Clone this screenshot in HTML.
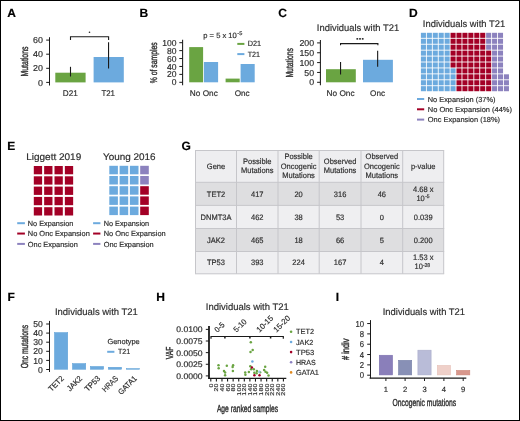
<!DOCTYPE html>
<html><head><meta charset="utf-8"><style>
html,body{margin:0;padding:0;background:#fff;}
body{width:520px;height:421px;overflow:hidden;}
svg{display:block;font-family:"Liberation Sans", sans-serif;will-change:transform;text-rendering:geometricPrecision;}
text{stroke:currentColor;stroke-width:0.18px;}
text.cn{stroke-width:0.38px;}
</style></head><body>
<svg width="520" height="421" viewBox="0 0 520 421">
<rect x="0" y="0" width="520" height="421" fill="#fff"/>
<text x="7.3" y="17.3" font-size="12" text-anchor="start" fill="#000" color="#000" font-weight="bold" >A</text>
<line x1="49.5" y1="37.2" x2="49.5" y2="85.5" stroke="#1a1a1a" stroke-width="1.05" />
<line x1="46.2" y1="82.4" x2="49.5" y2="82.4" stroke="#1a1a1a" stroke-width="1.0" />
<text x="43.0" y="85.5" font-size="8.6" text-anchor="end" fill="#2e2e2e" color="#2e2e2e" textLength="4.95" lengthAdjust="spacingAndGlyphs" >0</text>
<line x1="46.2" y1="68.3" x2="49.5" y2="68.3" stroke="#1a1a1a" stroke-width="1.0" />
<text x="43.0" y="71.4" font-size="8.6" text-anchor="end" fill="#2e2e2e" color="#2e2e2e" textLength="9.9" lengthAdjust="spacingAndGlyphs" >20</text>
<line x1="46.2" y1="54.2" x2="49.5" y2="54.2" stroke="#1a1a1a" stroke-width="1.0" />
<text x="43.0" y="57.3" font-size="8.6" text-anchor="end" fill="#2e2e2e" color="#2e2e2e" textLength="9.9" lengthAdjust="spacingAndGlyphs" >40</text>
<line x1="46.2" y1="40.1" x2="49.5" y2="40.1" stroke="#1a1a1a" stroke-width="1.0" />
<text x="43.0" y="43.2" font-size="8.6" text-anchor="end" fill="#2e2e2e" color="#2e2e2e" textLength="9.9" lengthAdjust="spacingAndGlyphs" >60</text>
<rect x="55.3" y="72.7" width="30.3" height="9.700000000000003" fill="#6aa442"/>
<rect x="93.6" y="57.0" width="30.2" height="25.400000000000006" fill="#6caade"/>
<line x1="70.5" y1="66.8" x2="70.5" y2="76.5" stroke="#1a1a1a" stroke-width="1.1" />
<line x1="108.55" y1="42.2" x2="108.55" y2="68.6" stroke="#1a1a1a" stroke-width="1.1" />
<path d="M70.5,39.9 V36.7 H108.6 V39.9" stroke="#1a1a1a" stroke-width="1.1" fill="none"/>
<circle cx="89.5" cy="32.2" r="0.8" fill="#222"/>
<text x="70.3" y="96.2" font-size="8.2" text-anchor="middle" fill="#2e2e2e" color="#2e2e2e" textLength="15.0" lengthAdjust="spacingAndGlyphs" >D21</text>
<text x="108.2" y="96.2" font-size="8.2" text-anchor="middle" fill="#2e2e2e" color="#2e2e2e" textLength="13.6" lengthAdjust="spacingAndGlyphs" >T21</text>
<text transform="translate(27.6,61.5) rotate(-90)" x="0" y="0" font-size="10.2" text-anchor="middle" fill="#2e2e2e" color="#2e2e2e" textLength="30.0" lengthAdjust="spacingAndGlyphs" class="cn">Mutations</text>
<text x="139.6" y="17.3" font-size="12" text-anchor="start" fill="#000" color="#000" font-weight="bold" >B</text>
<line x1="182.6" y1="39.7" x2="182.6" y2="85.3" stroke="#1a1a1a" stroke-width="1.05" />
<line x1="179.29999999999998" y1="82.3" x2="182.6" y2="82.3" stroke="#1a1a1a" stroke-width="1.0" />
<text x="176.5" y="85.4" font-size="8.6" text-anchor="end" fill="#2e2e2e" color="#2e2e2e" textLength="4.75" lengthAdjust="spacingAndGlyphs" >0</text>
<line x1="179.29999999999998" y1="74.38" x2="182.6" y2="74.38" stroke="#1a1a1a" stroke-width="1.0" />
<text x="176.5" y="77.48" font-size="8.6" text-anchor="end" fill="#2e2e2e" color="#2e2e2e" textLength="9.5" lengthAdjust="spacingAndGlyphs" >20</text>
<line x1="179.29999999999998" y1="66.46" x2="182.6" y2="66.46" stroke="#1a1a1a" stroke-width="1.0" />
<text x="176.5" y="69.56" font-size="8.6" text-anchor="end" fill="#2e2e2e" color="#2e2e2e" textLength="9.5" lengthAdjust="spacingAndGlyphs" >40</text>
<line x1="179.29999999999998" y1="58.54" x2="182.6" y2="58.54" stroke="#1a1a1a" stroke-width="1.0" />
<text x="176.5" y="61.64" font-size="8.6" text-anchor="end" fill="#2e2e2e" color="#2e2e2e" textLength="9.5" lengthAdjust="spacingAndGlyphs" >60</text>
<line x1="179.29999999999998" y1="50.62" x2="182.6" y2="50.62" stroke="#1a1a1a" stroke-width="1.0" />
<text x="176.5" y="53.72" font-size="8.6" text-anchor="end" fill="#2e2e2e" color="#2e2e2e" textLength="9.5" lengthAdjust="spacingAndGlyphs" >80</text>
<line x1="179.29999999999998" y1="42.7" x2="182.6" y2="42.7" stroke="#1a1a1a" stroke-width="1.0" />
<text x="176.5" y="45.8" font-size="8.6" text-anchor="end" fill="#2e2e2e" color="#2e2e2e" textLength="14.25" lengthAdjust="spacingAndGlyphs" >100</text>
<rect x="189.2" y="47.1" width="13.9" height="35.199999999999996" fill="#6aa442"/>
<rect x="203.9" y="62.0" width="14.2" height="20.299999999999997" fill="#6caade"/>
<rect x="225.6" y="78.6" width="14.1" height="3.700000000000003" fill="#6aa442"/>
<rect x="240.6" y="64.0" width="14.1" height="18.299999999999997" fill="#6caade"/>
<text x="203.8" y="96.3" font-size="8.2" text-anchor="middle" fill="#2e2e2e" color="#2e2e2e" textLength="28.0" lengthAdjust="spacingAndGlyphs" >No Onc</text>
<text x="242.2" y="96.3" font-size="8.2" text-anchor="middle" fill="#2e2e2e" color="#2e2e2e" textLength="15.0" lengthAdjust="spacingAndGlyphs" >Onc</text>
<text transform="translate(156.5,62.8) rotate(-90)" x="0" y="0" font-size="9.8" text-anchor="middle" fill="#2e2e2e" color="#2e2e2e" textLength="41.0" lengthAdjust="spacingAndGlyphs" class="cn">% of samples</text>
<text x="203.3" y="38.2" font-size="7.6" text-anchor="start" fill="#2e2e2e" color="#2e2e2e" textLength="33.5" lengthAdjust="spacingAndGlyphs" >p = 5 x 10</text>
<text x="237.3" y="35.0" font-size="5.2" text-anchor="start" fill="#2e2e2e" color="#2e2e2e" textLength="5.0" lengthAdjust="spacingAndGlyphs" >-5</text>
<line x1="237.3" y1="43.9" x2="244.4" y2="43.9" stroke="#6aa442" stroke-width="2.0" />
<line x1="237.3" y1="54.1" x2="244.4" y2="54.1" stroke="#6caade" stroke-width="2.0" />
<text x="247.7" y="46.3" font-size="7.7" text-anchor="start" fill="#2e2e2e" color="#2e2e2e" textLength="13.4" lengthAdjust="spacingAndGlyphs" >D21</text>
<text x="247.7" y="56.6" font-size="7.7" text-anchor="start" fill="#2e2e2e" color="#2e2e2e" textLength="12.4" lengthAdjust="spacingAndGlyphs" >T21</text>
<text x="278.2" y="17.3" font-size="12" text-anchor="start" fill="#000" color="#000" font-weight="bold" >C</text>
<text x="358.0" y="31.0" font-size="9.6" text-anchor="middle" fill="#2e2e2e" color="#2e2e2e" textLength="82.3" lengthAdjust="spacingAndGlyphs" >Individuals with T21</text>
<line x1="320.4" y1="40.0" x2="320.4" y2="85.3" stroke="#1a1a1a" stroke-width="1.05" />
<line x1="317.09999999999997" y1="82.3" x2="320.4" y2="82.3" stroke="#1a1a1a" stroke-width="1.0" />
<text x="314.1" y="85.4" font-size="8.6" text-anchor="end" fill="#2e2e2e" color="#2e2e2e" textLength="4.9" lengthAdjust="spacingAndGlyphs" >0</text>
<line x1="317.09999999999997" y1="72.45" x2="320.4" y2="72.45" stroke="#1a1a1a" stroke-width="1.0" />
<text x="314.1" y="75.55" font-size="8.6" text-anchor="end" fill="#2e2e2e" color="#2e2e2e" textLength="9.8" lengthAdjust="spacingAndGlyphs" >50</text>
<line x1="317.09999999999997" y1="62.6" x2="320.4" y2="62.6" stroke="#1a1a1a" stroke-width="1.0" />
<text x="314.1" y="65.7" font-size="8.6" text-anchor="end" fill="#2e2e2e" color="#2e2e2e" textLength="14.7" lengthAdjust="spacingAndGlyphs" >100</text>
<line x1="317.09999999999997" y1="52.75" x2="320.4" y2="52.75" stroke="#1a1a1a" stroke-width="1.0" />
<text x="314.1" y="55.85" font-size="8.6" text-anchor="end" fill="#2e2e2e" color="#2e2e2e" textLength="14.7" lengthAdjust="spacingAndGlyphs" >150</text>
<line x1="317.09999999999997" y1="42.9" x2="320.4" y2="42.9" stroke="#1a1a1a" stroke-width="1.0" />
<text x="314.1" y="46.0" font-size="8.6" text-anchor="end" fill="#2e2e2e" color="#2e2e2e" textLength="14.7" lengthAdjust="spacingAndGlyphs" >200</text>
<rect x="326.0" y="69.2" width="29.8" height="13.099999999999994" fill="#6aa442"/>
<rect x="363.0" y="59.8" width="29.9" height="22.5" fill="#6caade"/>
<line x1="340.55" y1="61.9" x2="340.55" y2="74.6" stroke="#1a1a1a" stroke-width="1.1" />
<line x1="377.65" y1="50.8" x2="377.65" y2="66.8" stroke="#1a1a1a" stroke-width="1.1" />
<path d="M340.55,45.3 V43.6 H377.9 V45.3" stroke="#1a1a1a" stroke-width="1.1" fill="none"/>
<rect x="356.45" y="38.0" width="1.7" height="1.7" fill="#333"/>
<rect x="359.15" y="38.0" width="1.7" height="1.7" fill="#333"/>
<rect x="361.85" y="38.0" width="1.7" height="1.7" fill="#333"/>
<text x="340.6" y="96.3" font-size="8.2" text-anchor="middle" fill="#2e2e2e" color="#2e2e2e" textLength="28.0" lengthAdjust="spacingAndGlyphs" >No Onc</text>
<text x="377.6" y="96.3" font-size="8.2" text-anchor="middle" fill="#2e2e2e" color="#2e2e2e" textLength="15.0" lengthAdjust="spacingAndGlyphs" >Onc</text>
<text transform="translate(293.4,62.8) rotate(-90)" x="0" y="0" font-size="10.2" text-anchor="middle" fill="#2e2e2e" color="#2e2e2e" textLength="29.6" lengthAdjust="spacingAndGlyphs" class="cn">Mutations</text>
<text x="409.05" y="17.2" font-size="12" text-anchor="start" fill="#000" color="#000" font-weight="bold" >D</text>
<text x="464.0" y="27.2" font-size="9.6" text-anchor="middle" fill="#2e2e2e" color="#2e2e2e" textLength="82.3" lengthAdjust="spacingAndGlyphs" >Individuals with T21</text>
<rect x="420.9" y="86.17" width="5.05" height="5.05" fill="#6caade"/>
<rect x="420.9" y="80.24" width="5.05" height="5.05" fill="#6caade"/>
<rect x="420.9" y="74.31" width="5.05" height="5.05" fill="#6caade"/>
<rect x="420.9" y="68.38" width="5.05" height="5.05" fill="#6caade"/>
<rect x="420.9" y="62.45" width="5.05" height="5.05" fill="#6caade"/>
<rect x="420.9" y="56.52" width="5.05" height="5.05" fill="#6caade"/>
<rect x="420.9" y="50.59" width="5.05" height="5.05" fill="#6caade"/>
<rect x="420.9" y="44.66" width="5.05" height="5.05" fill="#6caade"/>
<rect x="420.9" y="38.73" width="5.05" height="5.05" fill="#6caade"/>
<rect x="420.9" y="32.8" width="5.05" height="5.05" fill="#6caade"/>
<rect x="426.83" y="86.17" width="5.05" height="5.05" fill="#6caade"/>
<rect x="426.83" y="80.24" width="5.05" height="5.05" fill="#6caade"/>
<rect x="426.83" y="74.31" width="5.05" height="5.05" fill="#6caade"/>
<rect x="426.83" y="68.38" width="5.05" height="5.05" fill="#6caade"/>
<rect x="426.83" y="62.45" width="5.05" height="5.05" fill="#6caade"/>
<rect x="426.83" y="56.52" width="5.05" height="5.05" fill="#6caade"/>
<rect x="426.83" y="50.59" width="5.05" height="5.05" fill="#6caade"/>
<rect x="426.83" y="44.66" width="5.05" height="5.05" fill="#6caade"/>
<rect x="426.83" y="38.73" width="5.05" height="5.05" fill="#6caade"/>
<rect x="426.83" y="32.8" width="5.05" height="5.05" fill="#6caade"/>
<rect x="432.76" y="86.17" width="5.05" height="5.05" fill="#6caade"/>
<rect x="432.76" y="80.24" width="5.05" height="5.05" fill="#6caade"/>
<rect x="432.76" y="74.31" width="5.05" height="5.05" fill="#6caade"/>
<rect x="432.76" y="68.38" width="5.05" height="5.05" fill="#6caade"/>
<rect x="432.76" y="62.45" width="5.05" height="5.05" fill="#6caade"/>
<rect x="432.76" y="56.52" width="5.05" height="5.05" fill="#6caade"/>
<rect x="432.76" y="50.59" width="5.05" height="5.05" fill="#6caade"/>
<rect x="432.76" y="44.66" width="5.05" height="5.05" fill="#6caade"/>
<rect x="432.76" y="38.73" width="5.05" height="5.05" fill="#6caade"/>
<rect x="432.76" y="32.8" width="5.05" height="5.05" fill="#6caade"/>
<rect x="438.69" y="86.17" width="5.05" height="5.05" fill="#6caade"/>
<rect x="438.69" y="80.24" width="5.05" height="5.05" fill="#6caade"/>
<rect x="438.69" y="74.31" width="5.05" height="5.05" fill="#6caade"/>
<rect x="438.69" y="68.38" width="5.05" height="5.05" fill="#6caade"/>
<rect x="438.69" y="62.45" width="5.05" height="5.05" fill="#6caade"/>
<rect x="438.69" y="56.52" width="5.05" height="5.05" fill="#6caade"/>
<rect x="438.69" y="50.59" width="5.05" height="5.05" fill="#6caade"/>
<rect x="438.69" y="44.66" width="5.05" height="5.05" fill="#6caade"/>
<rect x="438.69" y="38.73" width="5.05" height="5.05" fill="#6caade"/>
<rect x="438.69" y="32.8" width="5.05" height="5.05" fill="#6caade"/>
<rect x="444.62" y="86.17" width="5.05" height="5.05" fill="#6caade"/>
<rect x="444.62" y="80.24" width="5.05" height="5.05" fill="#6caade"/>
<rect x="444.62" y="74.31" width="5.05" height="5.05" fill="#6caade"/>
<rect x="444.62" y="68.38" width="5.05" height="5.05" fill="#6caade"/>
<rect x="444.62" y="62.45" width="5.05" height="5.05" fill="#6caade"/>
<rect x="444.62" y="56.52" width="5.05" height="5.05" fill="#6caade"/>
<rect x="444.62" y="50.59" width="5.05" height="5.05" fill="#6caade"/>
<rect x="444.62" y="44.66" width="5.05" height="5.05" fill="#6caade"/>
<rect x="444.62" y="38.73" width="5.05" height="5.05" fill="#6caade"/>
<rect x="444.62" y="32.8" width="5.05" height="5.05" fill="#6caade"/>
<rect x="450.55" y="86.17" width="5.05" height="5.05" fill="#6caade"/>
<rect x="450.55" y="80.24" width="5.05" height="5.05" fill="#6caade"/>
<rect x="450.55" y="74.31" width="5.05" height="5.05" fill="#6caade"/>
<rect x="450.55" y="68.38" width="5.05" height="5.05" fill="#6caade"/>
<rect x="450.55" y="62.45" width="5.05" height="5.05" fill="#a30026"/>
<rect x="450.55" y="56.52" width="5.05" height="5.05" fill="#a30026"/>
<rect x="450.55" y="50.59" width="5.05" height="5.05" fill="#a30026"/>
<rect x="450.55" y="44.66" width="5.05" height="5.05" fill="#a30026"/>
<rect x="450.55" y="38.73" width="5.05" height="5.05" fill="#a30026"/>
<rect x="450.55" y="32.8" width="5.05" height="5.05" fill="#a30026"/>
<rect x="456.48" y="86.17" width="5.05" height="5.05" fill="#a30026"/>
<rect x="456.48" y="80.24" width="5.05" height="5.05" fill="#a30026"/>
<rect x="456.48" y="74.31" width="5.05" height="5.05" fill="#a30026"/>
<rect x="456.48" y="68.38" width="5.05" height="5.05" fill="#a30026"/>
<rect x="456.48" y="62.45" width="5.05" height="5.05" fill="#a30026"/>
<rect x="456.48" y="56.52" width="5.05" height="5.05" fill="#a30026"/>
<rect x="456.48" y="50.59" width="5.05" height="5.05" fill="#a30026"/>
<rect x="456.48" y="44.66" width="5.05" height="5.05" fill="#a30026"/>
<rect x="456.48" y="38.73" width="5.05" height="5.05" fill="#a30026"/>
<rect x="456.48" y="32.8" width="5.05" height="5.05" fill="#a30026"/>
<rect x="462.41" y="86.17" width="5.05" height="5.05" fill="#a30026"/>
<rect x="462.41" y="80.24" width="5.05" height="5.05" fill="#a30026"/>
<rect x="462.41" y="74.31" width="5.05" height="5.05" fill="#a30026"/>
<rect x="462.41" y="68.38" width="5.05" height="5.05" fill="#a30026"/>
<rect x="462.41" y="62.45" width="5.05" height="5.05" fill="#a30026"/>
<rect x="462.41" y="56.52" width="5.05" height="5.05" fill="#a30026"/>
<rect x="462.41" y="50.59" width="5.05" height="5.05" fill="#a30026"/>
<rect x="462.41" y="44.66" width="5.05" height="5.05" fill="#a30026"/>
<rect x="462.41" y="38.73" width="5.05" height="5.05" fill="#a30026"/>
<rect x="462.41" y="32.8" width="5.05" height="5.05" fill="#a30026"/>
<rect x="468.34" y="86.17" width="5.05" height="5.05" fill="#a30026"/>
<rect x="468.34" y="80.24" width="5.05" height="5.05" fill="#a30026"/>
<rect x="468.34" y="74.31" width="5.05" height="5.05" fill="#a30026"/>
<rect x="468.34" y="68.38" width="5.05" height="5.05" fill="#a30026"/>
<rect x="468.34" y="62.45" width="5.05" height="5.05" fill="#a30026"/>
<rect x="468.34" y="56.52" width="5.05" height="5.05" fill="#a30026"/>
<rect x="468.34" y="50.59" width="5.05" height="5.05" fill="#a30026"/>
<rect x="468.34" y="44.66" width="5.05" height="5.05" fill="#a30026"/>
<rect x="468.34" y="38.73" width="5.05" height="5.05" fill="#a30026"/>
<rect x="468.34" y="32.8" width="5.05" height="5.05" fill="#a30026"/>
<rect x="474.27" y="86.17" width="5.05" height="5.05" fill="#a30026"/>
<rect x="474.27" y="80.24" width="5.05" height="5.05" fill="#a30026"/>
<rect x="474.27" y="74.31" width="5.05" height="5.05" fill="#a30026"/>
<rect x="474.27" y="68.38" width="5.05" height="5.05" fill="#a30026"/>
<rect x="474.27" y="62.45" width="5.05" height="5.05" fill="#a30026"/>
<rect x="474.27" y="56.52" width="5.05" height="5.05" fill="#a30026"/>
<rect x="474.27" y="50.59" width="5.05" height="5.05" fill="#a30026"/>
<rect x="474.27" y="44.66" width="5.05" height="5.05" fill="#a30026"/>
<rect x="474.27" y="38.73" width="5.05" height="5.05" fill="#a30026"/>
<rect x="474.27" y="32.8" width="5.05" height="5.05" fill="#a30026"/>
<rect x="480.2" y="86.17" width="5.05" height="5.05" fill="#a30026"/>
<rect x="480.2" y="80.24" width="5.05" height="5.05" fill="#a30026"/>
<rect x="480.2" y="74.31" width="5.05" height="5.05" fill="#a30026"/>
<rect x="480.2" y="68.38" width="5.05" height="5.05" fill="#a30026"/>
<rect x="480.2" y="62.45" width="5.05" height="5.05" fill="#a30026"/>
<rect x="480.2" y="56.52" width="5.05" height="5.05" fill="#a30026"/>
<rect x="480.2" y="50.59" width="5.05" height="5.05" fill="#a30026"/>
<rect x="480.2" y="44.66" width="5.05" height="5.05" fill="#a30026"/>
<rect x="480.2" y="38.73" width="5.05" height="5.05" fill="#a30026"/>
<rect x="480.2" y="32.8" width="5.05" height="5.05" fill="#a30026"/>
<rect x="486.13" y="86.17" width="5.05" height="5.05" fill="#a30026"/>
<rect x="486.13" y="80.24" width="5.05" height="5.05" fill="#a30026"/>
<rect x="486.13" y="74.31" width="5.05" height="5.05" fill="#a30026"/>
<rect x="486.13" y="68.38" width="5.05" height="5.05" fill="#a30026"/>
<rect x="486.13" y="62.45" width="5.05" height="5.05" fill="#a30026"/>
<rect x="486.13" y="56.52" width="5.05" height="5.05" fill="#a30026"/>
<rect x="486.13" y="50.59" width="5.05" height="5.05" fill="#a30026"/>
<rect x="486.13" y="44.66" width="5.05" height="5.05" fill="#8c82be"/>
<rect x="486.13" y="38.73" width="5.05" height="5.05" fill="#8c82be"/>
<rect x="486.13" y="32.8" width="5.05" height="5.05" fill="#8c82be"/>
<rect x="492.06" y="86.17" width="5.05" height="5.05" fill="#8c82be"/>
<rect x="492.06" y="80.24" width="5.05" height="5.05" fill="#8c82be"/>
<rect x="492.06" y="74.31" width="5.05" height="5.05" fill="#8c82be"/>
<rect x="492.06" y="68.38" width="5.05" height="5.05" fill="#8c82be"/>
<rect x="492.06" y="62.45" width="5.05" height="5.05" fill="#8c82be"/>
<rect x="492.06" y="56.52" width="5.05" height="5.05" fill="#8c82be"/>
<rect x="492.06" y="50.59" width="5.05" height="5.05" fill="#8c82be"/>
<rect x="492.06" y="44.66" width="5.05" height="5.05" fill="#8c82be"/>
<rect x="492.06" y="38.73" width="5.05" height="5.05" fill="#8c82be"/>
<rect x="492.06" y="32.8" width="5.05" height="5.05" fill="#8c82be"/>
<rect x="497.99" y="86.17" width="5.05" height="5.05" fill="#8c82be"/>
<rect x="497.99" y="80.24" width="5.05" height="5.05" fill="#8c82be"/>
<rect x="497.99" y="74.31" width="5.05" height="5.05" fill="#8c82be"/>
<rect x="497.99" y="68.38" width="5.05" height="5.05" fill="#8c82be"/>
<rect x="497.99" y="62.45" width="5.05" height="5.05" fill="#8c82be"/>
<rect x="497.99" y="56.52" width="5.05" height="5.05" fill="#8c82be"/>
<rect x="497.99" y="50.59" width="5.05" height="5.05" fill="#8c82be"/>
<rect x="497.99" y="44.66" width="5.05" height="5.05" fill="#8c82be"/>
<rect x="497.99" y="38.73" width="5.05" height="5.05" fill="#8c82be"/>
<rect x="497.99" y="32.8" width="5.05" height="5.05" fill="#8c82be"/>
<rect x="503.92" y="86.17" width="5.05" height="5.05" fill="#8c82be"/>
<rect x="503.92" y="80.24" width="5.05" height="5.05" fill="#8c82be"/>
<rect x="503.92" y="74.31" width="5.05" height="5.05" fill="#8c82be"/>
<line x1="417.0" y1="99.0" x2="424.2" y2="99.0" stroke="#6caade" stroke-width="2.0" />
<text x="427.8" y="101.6" font-size="7.3" text-anchor="start" fill="#2e2e2e" color="#2e2e2e" textLength="67.6" lengthAdjust="spacingAndGlyphs" >No Expansion (37%)</text>
<line x1="417.0" y1="109.3" x2="424.2" y2="109.3" stroke="#a30026" stroke-width="2.0" />
<text x="427.8" y="111.9" font-size="7.3" text-anchor="start" fill="#2e2e2e" color="#2e2e2e" textLength="84.2" lengthAdjust="spacingAndGlyphs" >No Onc Expansion (44%)</text>
<line x1="417.0" y1="119.6" x2="424.2" y2="119.6" stroke="#8c82be" stroke-width="2.0" />
<text x="427.8" y="122.2" font-size="7.3" text-anchor="start" fill="#2e2e2e" color="#2e2e2e" textLength="72.2" lengthAdjust="spacingAndGlyphs" >Onc Expansion (18%)</text>
<text x="7.3" y="150.2" font-size="12" text-anchor="start" fill="#000" color="#000" font-weight="bold" >E</text>
<text x="53.7" y="159.5" font-size="9.6" text-anchor="middle" fill="#2e2e2e" color="#2e2e2e" textLength="55.0" lengthAdjust="spacingAndGlyphs" >Liggett 2019</text>
<text x="129.2" y="159.5" font-size="9.6" text-anchor="middle" fill="#2e2e2e" color="#2e2e2e" textLength="52.5" lengthAdjust="spacingAndGlyphs" >Young 2016</text>
<rect x="33.8" y="166.0" width="8.3" height="8.3" fill="#a30026"/>
<rect x="44.15" y="166.0" width="8.3" height="8.3" fill="#a30026"/>
<rect x="54.5" y="166.0" width="8.3" height="8.3" fill="#a30026"/>
<rect x="64.85" y="166.0" width="8.3" height="8.3" fill="#a30026"/>
<rect x="33.8" y="176.3" width="8.3" height="8.3" fill="#a30026"/>
<rect x="44.15" y="176.3" width="8.3" height="8.3" fill="#a30026"/>
<rect x="54.5" y="176.3" width="8.3" height="8.3" fill="#a30026"/>
<rect x="64.85" y="176.3" width="8.3" height="8.3" fill="#a30026"/>
<rect x="33.8" y="186.6" width="8.3" height="8.3" fill="#a30026"/>
<rect x="44.15" y="186.6" width="8.3" height="8.3" fill="#a30026"/>
<rect x="54.5" y="186.6" width="8.3" height="8.3" fill="#a30026"/>
<rect x="64.85" y="186.6" width="8.3" height="8.3" fill="#a30026"/>
<rect x="33.8" y="196.9" width="8.3" height="8.3" fill="#a30026"/>
<rect x="44.15" y="196.9" width="8.3" height="8.3" fill="#a30026"/>
<rect x="54.5" y="196.9" width="8.3" height="8.3" fill="#a30026"/>
<rect x="64.85" y="196.9" width="8.3" height="8.3" fill="#a30026"/>
<rect x="33.8" y="207.2" width="8.3" height="8.3" fill="#a30026"/>
<rect x="44.15" y="207.2" width="8.3" height="8.3" fill="#a30026"/>
<rect x="54.5" y="207.2" width="8.3" height="8.3" fill="#a30026"/>
<rect x="64.85" y="207.2" width="8.3" height="8.3" fill="#a30026"/>
<rect x="109.3" y="165.8" width="8.6" height="8.5" fill="#6caade"/>
<rect x="109.3" y="176.0" width="8.6" height="8.5" fill="#6caade"/>
<rect x="109.3" y="186.2" width="8.6" height="8.5" fill="#6caade"/>
<rect x="109.3" y="196.4" width="8.6" height="8.5" fill="#6caade"/>
<rect x="109.3" y="206.6" width="8.6" height="8.5" fill="#6caade"/>
<rect x="119.6" y="165.8" width="8.6" height="8.5" fill="#6caade"/>
<rect x="119.6" y="176.0" width="8.6" height="8.5" fill="#6caade"/>
<rect x="119.6" y="186.2" width="8.6" height="8.5" fill="#6caade"/>
<rect x="119.6" y="196.4" width="8.6" height="8.5" fill="#6caade"/>
<rect x="119.6" y="206.6" width="8.6" height="8.5" fill="#6caade"/>
<rect x="129.9" y="165.8" width="8.6" height="8.5" fill="#6caade"/>
<rect x="129.9" y="176.0" width="8.6" height="8.5" fill="#6caade"/>
<rect x="129.9" y="186.2" width="8.6" height="8.5" fill="#6caade"/>
<rect x="129.9" y="196.4" width="8.6" height="8.5" fill="#6caade"/>
<rect x="129.9" y="206.6" width="8.6" height="8.5" fill="#6caade"/>
<rect x="140.2" y="165.8" width="8.6" height="8.5" fill="#8c82be"/>
<rect x="140.2" y="176.0" width="8.6" height="8.5" fill="#8c82be"/>
<rect x="140.2" y="186.2" width="8.6" height="8.5" fill="#a30026"/>
<rect x="140.2" y="196.4" width="8.6" height="8.5" fill="#a30026"/>
<rect x="140.2" y="206.6" width="8.6" height="8.5" fill="#a30026"/>
<line x1="17.2" y1="223.2" x2="24.9" y2="223.2" stroke="#6caade" stroke-width="2.0" />
<text x="27.8" y="225.9" font-size="7.4" text-anchor="start" fill="#2e2e2e" color="#2e2e2e" textLength="45.5" lengthAdjust="spacingAndGlyphs" >No Expansion</text>
<line x1="17.2" y1="233.55" x2="24.9" y2="233.55" stroke="#a30026" stroke-width="2.0" />
<text x="27.8" y="236.25" font-size="7.4" text-anchor="start" fill="#2e2e2e" color="#2e2e2e" textLength="62.0" lengthAdjust="spacingAndGlyphs" >No Onc Expansion</text>
<line x1="17.2" y1="243.9" x2="24.9" y2="243.9" stroke="#8c82be" stroke-width="2.0" />
<text x="27.8" y="246.6" font-size="7.4" text-anchor="start" fill="#2e2e2e" color="#2e2e2e" textLength="50.0" lengthAdjust="spacingAndGlyphs" >Onc Expansion</text>
<line x1="93.1" y1="223.2" x2="100.39999999999999" y2="223.2" stroke="#6caade" stroke-width="2.0" />
<text x="103.7" y="225.9" font-size="7.4" text-anchor="start" fill="#2e2e2e" color="#2e2e2e" textLength="45.5" lengthAdjust="spacingAndGlyphs" >No Expansion</text>
<line x1="93.1" y1="233.55" x2="100.39999999999999" y2="233.55" stroke="#a30026" stroke-width="2.0" />
<text x="103.7" y="236.25" font-size="7.4" text-anchor="start" fill="#2e2e2e" color="#2e2e2e" textLength="62.0" lengthAdjust="spacingAndGlyphs" >No Onc Expansion</text>
<line x1="93.1" y1="243.9" x2="100.39999999999999" y2="243.9" stroke="#8c82be" stroke-width="2.0" />
<text x="103.7" y="246.6" font-size="7.4" text-anchor="start" fill="#2e2e2e" color="#2e2e2e" textLength="50.0" lengthAdjust="spacingAndGlyphs" >Onc Expansion</text>
<text x="181.6" y="150.2" font-size="12" text-anchor="start" fill="#000" color="#000" font-weight="bold" >G</text>
<rect x="195.5" y="150.5" width="248.2" height="31.80000000000001" fill="#eeeef0"/>
<rect x="195.5" y="182.3" width="248.2" height="23.099999999999994" fill="#dedee0"/>
<rect x="195.5" y="205.4" width="248.2" height="23.099999999999994" fill="#efeff1"/>
<rect x="195.5" y="228.5" width="248.2" height="23.0" fill="#dedee0"/>
<rect x="195.5" y="251.5" width="248.2" height="22.30000000000001" fill="#efeff1"/>
<line x1="195.5" y1="150.5" x2="195.5" y2="273.8" stroke="#c6c6ca" stroke-width="1.0" />
<line x1="236.5" y1="150.5" x2="236.5" y2="273.8" stroke="#c6c6ca" stroke-width="1.0" />
<line x1="278.0" y1="150.5" x2="278.0" y2="273.8" stroke="#c6c6ca" stroke-width="1.0" />
<line x1="319.2" y1="150.5" x2="319.2" y2="273.8" stroke="#c6c6ca" stroke-width="1.0" />
<line x1="361.0" y1="150.5" x2="361.0" y2="273.8" stroke="#c6c6ca" stroke-width="1.0" />
<line x1="402.7" y1="150.5" x2="402.7" y2="273.8" stroke="#c6c6ca" stroke-width="1.0" />
<line x1="443.7" y1="150.5" x2="443.7" y2="273.8" stroke="#c6c6ca" stroke-width="1.0" />
<line x1="195.0" y1="150.5" x2="444.2" y2="150.5" stroke="#c6c6ca" stroke-width="1.0" />
<line x1="195.0" y1="182.3" x2="444.2" y2="182.3" stroke="#c6c6ca" stroke-width="1.0" />
<line x1="195.0" y1="205.4" x2="444.2" y2="205.4" stroke="#c6c6ca" stroke-width="1.0" />
<line x1="195.0" y1="228.5" x2="444.2" y2="228.5" stroke="#c6c6ca" stroke-width="1.0" />
<line x1="195.0" y1="251.5" x2="444.2" y2="251.5" stroke="#c6c6ca" stroke-width="1.0" />
<line x1="195.0" y1="273.8" x2="444.2" y2="273.8" stroke="#c6c6ca" stroke-width="1.0" />
<text x="216.0" y="168.8" font-size="7.88" text-anchor="middle" fill="#2e2e2e" color="#2e2e2e" textLength="18.35" lengthAdjust="spacingAndGlyphs" >Gene</text>
<text x="257.25" y="164.0" font-size="7.88" text-anchor="middle" fill="#2e2e2e" color="#2e2e2e" textLength="28.35" lengthAdjust="spacingAndGlyphs" >Possible</text>
<text x="257.25" y="173.1" font-size="7.88" text-anchor="middle" fill="#2e2e2e" color="#2e2e2e" textLength="32.52" lengthAdjust="spacingAndGlyphs" >Mutations</text>
<text x="298.6" y="159.4" font-size="7.88" text-anchor="middle" fill="#2e2e2e" color="#2e2e2e" textLength="28.35" lengthAdjust="spacingAndGlyphs" >Possible</text>
<text x="298.6" y="168.6" font-size="7.88" text-anchor="middle" fill="#2e2e2e" color="#2e2e2e" textLength="35.86" lengthAdjust="spacingAndGlyphs" >Oncogenic</text>
<text x="298.6" y="177.8" font-size="7.88" text-anchor="middle" fill="#2e2e2e" color="#2e2e2e" textLength="32.52" lengthAdjust="spacingAndGlyphs" >Mutations</text>
<text x="340.1" y="164.0" font-size="7.88" text-anchor="middle" fill="#2e2e2e" color="#2e2e2e" textLength="32.52" lengthAdjust="spacingAndGlyphs" >Observed</text>
<text x="340.1" y="173.1" font-size="7.88" text-anchor="middle" fill="#2e2e2e" color="#2e2e2e" textLength="32.52" lengthAdjust="spacingAndGlyphs" >Mutations</text>
<text x="381.85" y="159.4" font-size="7.88" text-anchor="middle" fill="#2e2e2e" color="#2e2e2e" textLength="32.52" lengthAdjust="spacingAndGlyphs" >Observed</text>
<text x="381.85" y="168.6" font-size="7.88" text-anchor="middle" fill="#2e2e2e" color="#2e2e2e" textLength="35.86" lengthAdjust="spacingAndGlyphs" >Oncogenic</text>
<text x="381.85" y="177.8" font-size="7.88" text-anchor="middle" fill="#2e2e2e" color="#2e2e2e" textLength="32.52" lengthAdjust="spacingAndGlyphs" >Mutations</text>
<text x="423.2" y="168.8" font-size="7.88" text-anchor="middle" fill="#2e2e2e" color="#2e2e2e" textLength="24.6" lengthAdjust="spacingAndGlyphs" >p-value</text>
<text x="216.0" y="196.55" font-size="7.88" text-anchor="middle" fill="#2e2e2e" color="#2e2e2e" textLength="18.34" lengthAdjust="spacingAndGlyphs" >TET2</text>
<text x="257.25" y="196.55" font-size="7.88" text-anchor="middle" fill="#2e2e2e" color="#2e2e2e" textLength="12.51" lengthAdjust="spacingAndGlyphs" >417</text>
<text x="298.6" y="196.55" font-size="7.88" text-anchor="middle" fill="#2e2e2e" color="#2e2e2e" textLength="8.34" lengthAdjust="spacingAndGlyphs" >20</text>
<text x="340.1" y="196.55" font-size="7.88" text-anchor="middle" fill="#2e2e2e" color="#2e2e2e" textLength="12.51" lengthAdjust="spacingAndGlyphs" >316</text>
<text x="381.85" y="196.55" font-size="7.88" text-anchor="middle" fill="#2e2e2e" color="#2e2e2e" textLength="8.34" lengthAdjust="spacingAndGlyphs" >46</text>
<text x="216.0" y="219.65" font-size="7.88" text-anchor="middle" fill="#2e2e2e" color="#2e2e2e" textLength="30.84" lengthAdjust="spacingAndGlyphs" >DNMT3A</text>
<text x="257.25" y="219.65" font-size="7.88" text-anchor="middle" fill="#2e2e2e" color="#2e2e2e" textLength="12.51" lengthAdjust="spacingAndGlyphs" >462</text>
<text x="298.6" y="219.65" font-size="7.88" text-anchor="middle" fill="#2e2e2e" color="#2e2e2e" textLength="8.34" lengthAdjust="spacingAndGlyphs" >38</text>
<text x="340.1" y="219.65" font-size="7.88" text-anchor="middle" fill="#2e2e2e" color="#2e2e2e" textLength="8.34" lengthAdjust="spacingAndGlyphs" >53</text>
<text x="381.85" y="219.65" font-size="7.5" text-anchor="middle" fill="#2e2e2e" color="#2e2e2e" >0</text>
<text x="423.2" y="219.65" font-size="7.88" text-anchor="middle" fill="#2e2e2e" color="#2e2e2e" textLength="18.77" lengthAdjust="spacingAndGlyphs" >0.039</text>
<text x="216.0" y="242.7" font-size="7.88" text-anchor="middle" fill="#2e2e2e" color="#2e2e2e" textLength="17.93" lengthAdjust="spacingAndGlyphs" >JAK2</text>
<text x="257.25" y="242.7" font-size="7.88" text-anchor="middle" fill="#2e2e2e" color="#2e2e2e" textLength="12.51" lengthAdjust="spacingAndGlyphs" >465</text>
<text x="298.6" y="242.7" font-size="7.88" text-anchor="middle" fill="#2e2e2e" color="#2e2e2e" textLength="8.34" lengthAdjust="spacingAndGlyphs" >18</text>
<text x="340.1" y="242.7" font-size="7.88" text-anchor="middle" fill="#2e2e2e" color="#2e2e2e" textLength="8.34" lengthAdjust="spacingAndGlyphs" >66</text>
<text x="381.85" y="242.7" font-size="7.5" text-anchor="middle" fill="#2e2e2e" color="#2e2e2e" >5</text>
<text x="423.2" y="242.7" font-size="7.88" text-anchor="middle" fill="#2e2e2e" color="#2e2e2e" textLength="18.77" lengthAdjust="spacingAndGlyphs" >0.200</text>
<text x="216.0" y="265.35" font-size="7.88" text-anchor="middle" fill="#2e2e2e" color="#2e2e2e" textLength="17.93" lengthAdjust="spacingAndGlyphs" >TP53</text>
<text x="257.25" y="265.35" font-size="7.88" text-anchor="middle" fill="#2e2e2e" color="#2e2e2e" textLength="12.51" lengthAdjust="spacingAndGlyphs" >393</text>
<text x="298.6" y="265.35" font-size="7.88" text-anchor="middle" fill="#2e2e2e" color="#2e2e2e" textLength="12.51" lengthAdjust="spacingAndGlyphs" >224</text>
<text x="340.1" y="265.35" font-size="7.88" text-anchor="middle" fill="#2e2e2e" color="#2e2e2e" textLength="12.51" lengthAdjust="spacingAndGlyphs" >167</text>
<text x="381.85" y="265.35" font-size="7.5" text-anchor="middle" fill="#2e2e2e" color="#2e2e2e" >4</text>
<text x="423.2" y="192.4" font-size="7.88" text-anchor="middle" fill="#2e2e2e" color="#2e2e2e" textLength="20.43" lengthAdjust="spacingAndGlyphs" >4.68 x</text>
<text x="420.6" y="201.4" font-size="7.88" text-anchor="middle" fill="#2e2e2e" color="#2e2e2e" textLength="8.34" lengthAdjust="spacingAndGlyphs" >10</text>
<text x="425.2" y="197.9" font-size="5.25" text-anchor="start" fill="#2e2e2e" color="#2e2e2e" textLength="4.45" lengthAdjust="spacingAndGlyphs" >-5</text>
<text x="423.2" y="260.4" font-size="7.88" text-anchor="middle" fill="#2e2e2e" color="#2e2e2e" textLength="20.43" lengthAdjust="spacingAndGlyphs" >1.53 x</text>
<text x="418.7" y="269.4" font-size="7.88" text-anchor="middle" fill="#2e2e2e" color="#2e2e2e" textLength="8.34" lengthAdjust="spacingAndGlyphs" >10</text>
<text x="422.9" y="266.6" font-size="5.25" text-anchor="start" fill="#2e2e2e" color="#2e2e2e" textLength="7.23" lengthAdjust="spacingAndGlyphs" >-28</text>
<text x="7.6" y="300.9" font-size="12" text-anchor="start" fill="#000" color="#000" font-weight="bold" >F</text>
<text x="96.4" y="315.3" font-size="9.6" text-anchor="middle" fill="#2e2e2e" color="#2e2e2e" textLength="83.0" lengthAdjust="spacingAndGlyphs" >Individuals with T21</text>
<line x1="49.5" y1="320.9" x2="49.5" y2="372.0" stroke="#1a1a1a" stroke-width="1.05" />
<line x1="46.2" y1="369.5" x2="49.5" y2="369.5" stroke="#1a1a1a" stroke-width="1.0" />
<text x="42.8" y="372.6" font-size="8.6" text-anchor="end" fill="#2e2e2e" color="#2e2e2e" textLength="4.8" lengthAdjust="spacingAndGlyphs" >0</text>
<line x1="46.2" y1="360.4" x2="49.5" y2="360.4" stroke="#1a1a1a" stroke-width="1.0" />
<text x="42.8" y="363.5" font-size="8.6" text-anchor="end" fill="#2e2e2e" color="#2e2e2e" textLength="9.6" lengthAdjust="spacingAndGlyphs" >10</text>
<line x1="46.2" y1="351.3" x2="49.5" y2="351.3" stroke="#1a1a1a" stroke-width="1.0" />
<text x="42.8" y="354.4" font-size="8.6" text-anchor="end" fill="#2e2e2e" color="#2e2e2e" textLength="9.6" lengthAdjust="spacingAndGlyphs" >20</text>
<line x1="46.2" y1="342.2" x2="49.5" y2="342.2" stroke="#1a1a1a" stroke-width="1.0" />
<text x="42.8" y="345.3" font-size="8.6" text-anchor="end" fill="#2e2e2e" color="#2e2e2e" textLength="9.6" lengthAdjust="spacingAndGlyphs" >30</text>
<line x1="46.2" y1="333.1" x2="49.5" y2="333.1" stroke="#1a1a1a" stroke-width="1.0" />
<text x="42.8" y="336.2" font-size="8.6" text-anchor="end" fill="#2e2e2e" color="#2e2e2e" textLength="9.6" lengthAdjust="spacingAndGlyphs" >40</text>
<line x1="46.2" y1="324.0" x2="49.5" y2="324.0" stroke="#1a1a1a" stroke-width="1.0" />
<text x="42.8" y="327.1" font-size="8.6" text-anchor="end" fill="#2e2e2e" color="#2e2e2e" textLength="9.6" lengthAdjust="spacingAndGlyphs" >50</text>
<rect x="54.45" y="332.55" width="13.3" height="36.7" fill="#6caade" stroke="#5c9fd6" stroke-width="0.5"/>
<rect x="72.45" y="363.55" width="13.3" height="5.7" fill="#6caade" stroke="#5c9fd6" stroke-width="0.5"/>
<rect x="90.35" y="366.45" width="13.3" height="2.8" fill="#6caade" stroke="#5c9fd6" stroke-width="0.5"/>
<rect x="108.35" y="367.25" width="13.3" height="2.0" fill="#6caade" stroke="#5c9fd6" stroke-width="0.5"/>
<rect x="126.35" y="368.55" width="13.3" height="0.7" fill="#6caade" stroke="#5c9fd6" stroke-width="0.5"/>
<text transform="translate(27.6,346.6) rotate(-90)" x="0" y="0" font-size="10.2" text-anchor="middle" fill="#2e2e2e" color="#2e2e2e" textLength="43.5" lengthAdjust="spacingAndGlyphs" class="cn">Onc mutations</text>
<text x="107.4" y="343.8" font-size="7.4" text-anchor="start" fill="#2e2e2e" color="#2e2e2e" textLength="32.4" lengthAdjust="spacingAndGlyphs" >Genotype</text>
<line x1="107.2" y1="351.8" x2="114.4" y2="351.8" stroke="#6caade" stroke-width="2.0" />
<text x="118.0" y="354.3" font-size="7.4" text-anchor="start" fill="#2e2e2e" color="#2e2e2e" textLength="12.2" lengthAdjust="spacingAndGlyphs" >T21</text>
<text transform="translate(64.6,379.0) rotate(-45)" x="0" y="0" font-size="8.0" text-anchor="end" fill="#2e2e2e" color="#2e2e2e" textLength="18.5" lengthAdjust="spacingAndGlyphs" >TET2</text>
<text transform="translate(82.8,379.0) rotate(-45)" x="0" y="0" font-size="8.0" text-anchor="end" fill="#2e2e2e" color="#2e2e2e" textLength="18.0" lengthAdjust="spacingAndGlyphs" >JAK2</text>
<text transform="translate(100.8,379.0) rotate(-45)" x="0" y="0" font-size="8.0" text-anchor="end" fill="#2e2e2e" color="#2e2e2e" textLength="18.5" lengthAdjust="spacingAndGlyphs" >TP53</text>
<text transform="translate(118.8,379.0) rotate(-45)" x="0" y="0" font-size="8.0" text-anchor="end" fill="#2e2e2e" color="#2e2e2e" textLength="19.0" lengthAdjust="spacingAndGlyphs" >HRAS</text>
<text transform="translate(137.4,379.0) rotate(-45)" x="0" y="0" font-size="8.0" text-anchor="end" fill="#2e2e2e" color="#2e2e2e" textLength="23.0" lengthAdjust="spacingAndGlyphs" >GATA1</text>
<text x="156.3" y="301.0" font-size="12" text-anchor="start" fill="#000" color="#000" font-weight="bold" >H</text>
<text x="247.3" y="309.6" font-size="9.6" text-anchor="middle" fill="#2e2e2e" color="#2e2e2e" textLength="83.0" lengthAdjust="spacingAndGlyphs" >Individuals with T21</text>
<line x1="209.0" y1="326.0" x2="209.0" y2="379.0" stroke="#1a1a1a" stroke-width="1.8" />
<line x1="205.8" y1="375.9" x2="209.0" y2="375.9" stroke="#1a1a1a" stroke-width="1.0" />
<text x="202.6" y="378.8" font-size="8.2" text-anchor="end" fill="#2e2e2e" color="#2e2e2e" textLength="26.4" lengthAdjust="spacingAndGlyphs" >0.0000</text>
<line x1="205.8" y1="364.27" x2="209.0" y2="364.27" stroke="#1a1a1a" stroke-width="1.0" />
<text x="202.6" y="367.17" font-size="8.2" text-anchor="end" fill="#2e2e2e" color="#2e2e2e" textLength="26.4" lengthAdjust="spacingAndGlyphs" >0.0025</text>
<line x1="205.8" y1="352.64" x2="209.0" y2="352.64" stroke="#1a1a1a" stroke-width="1.0" />
<text x="202.6" y="355.54" font-size="8.2" text-anchor="end" fill="#2e2e2e" color="#2e2e2e" textLength="26.4" lengthAdjust="spacingAndGlyphs" >0.0050</text>
<line x1="205.8" y1="341.01" x2="209.0" y2="341.01" stroke="#1a1a1a" stroke-width="1.0" />
<text x="202.6" y="343.91" font-size="8.2" text-anchor="end" fill="#2e2e2e" color="#2e2e2e" textLength="26.4" lengthAdjust="spacingAndGlyphs" >0.0075</text>
<line x1="205.8" y1="329.38" x2="209.0" y2="329.38" stroke="#1a1a1a" stroke-width="1.0" />
<text x="202.6" y="332.28" font-size="8.2" text-anchor="end" fill="#2e2e2e" color="#2e2e2e" textLength="26.4" lengthAdjust="spacingAndGlyphs" >0.0100</text>
<text transform="translate(172.8,352.9) rotate(-90)" x="0" y="0" font-size="10.2" text-anchor="middle" fill="#2e2e2e" color="#2e2e2e" textLength="12.5" lengthAdjust="spacingAndGlyphs" class="cn">VAF</text>
<line x1="208.5" y1="378.4" x2="286.3" y2="378.4" stroke="#1a1a1a" stroke-width="1.3" />
<line x1="210.8" y1="378.4" x2="210.8" y2="381.6" stroke="#1a1a1a" stroke-width="1.1" />
<line x1="216.39" y1="378.4" x2="216.39" y2="381.6" stroke="#1a1a1a" stroke-width="1.1" />
<line x1="221.97" y1="378.4" x2="221.97" y2="381.6" stroke="#1a1a1a" stroke-width="1.1" />
<line x1="227.56" y1="378.4" x2="227.56" y2="381.6" stroke="#1a1a1a" stroke-width="1.1" />
<line x1="233.14" y1="378.4" x2="233.14" y2="381.6" stroke="#1a1a1a" stroke-width="1.1" />
<line x1="238.73" y1="378.4" x2="238.73" y2="381.6" stroke="#1a1a1a" stroke-width="1.1" />
<line x1="244.31" y1="378.4" x2="244.31" y2="381.6" stroke="#1a1a1a" stroke-width="1.1" />
<line x1="249.9" y1="378.4" x2="249.9" y2="381.6" stroke="#1a1a1a" stroke-width="1.1" />
<line x1="255.48" y1="378.4" x2="255.48" y2="381.6" stroke="#1a1a1a" stroke-width="1.1" />
<line x1="261.06" y1="378.4" x2="261.06" y2="381.6" stroke="#1a1a1a" stroke-width="1.1" />
<line x1="266.65" y1="378.4" x2="266.65" y2="381.6" stroke="#1a1a1a" stroke-width="1.1" />
<line x1="272.24" y1="378.4" x2="272.24" y2="381.6" stroke="#1a1a1a" stroke-width="1.1" />
<line x1="277.82" y1="378.4" x2="277.82" y2="381.6" stroke="#1a1a1a" stroke-width="1.1" />
<line x1="283.41" y1="378.4" x2="283.41" y2="381.6" stroke="#1a1a1a" stroke-width="1.1" />
<text transform="translate(212.8,383.5) rotate(-90) scale(1,0.8)" font-size="7" letter-spacing="0.15" text-anchor="end" fill="#2e2e2e" color="#2e2e2e">0</text>
<text transform="translate(218.39,383.5) rotate(-90) scale(1,0.8)" font-size="7" letter-spacing="0.15" text-anchor="end" fill="#2e2e2e" color="#2e2e2e">20</text>
<text transform="translate(223.97,383.5) rotate(-90) scale(1,0.8)" font-size="7" letter-spacing="0.15" text-anchor="end" fill="#2e2e2e" color="#2e2e2e">40</text>
<text transform="translate(229.56,383.5) rotate(-90) scale(1,0.8)" font-size="7" letter-spacing="0.15" text-anchor="end" fill="#2e2e2e" color="#2e2e2e">60</text>
<text transform="translate(235.14,383.5) rotate(-90) scale(1,0.8)" font-size="7" letter-spacing="0.15" text-anchor="end" fill="#2e2e2e" color="#2e2e2e">80</text>
<text transform="translate(240.73,383.5) rotate(-90) scale(1,0.8)" font-size="7" letter-spacing="0.15" text-anchor="end" fill="#2e2e2e" color="#2e2e2e">100</text>
<text transform="translate(246.31,383.5) rotate(-90) scale(1,0.8)" font-size="7" letter-spacing="0.15" text-anchor="end" fill="#2e2e2e" color="#2e2e2e">120</text>
<text transform="translate(251.9,383.5) rotate(-90) scale(1,0.8)" font-size="7" letter-spacing="0.15" text-anchor="end" fill="#2e2e2e" color="#2e2e2e">140</text>
<text transform="translate(257.48,383.5) rotate(-90) scale(1,0.8)" font-size="7" letter-spacing="0.15" text-anchor="end" fill="#2e2e2e" color="#2e2e2e">160</text>
<text transform="translate(263.06,383.5) rotate(-90) scale(1,0.8)" font-size="7" letter-spacing="0.15" text-anchor="end" fill="#2e2e2e" color="#2e2e2e">180</text>
<text transform="translate(268.65,383.5) rotate(-90) scale(1,0.8)" font-size="7" letter-spacing="0.15" text-anchor="end" fill="#2e2e2e" color="#2e2e2e">200</text>
<text transform="translate(274.24,383.5) rotate(-90) scale(1,0.8)" font-size="7" letter-spacing="0.15" text-anchor="end" fill="#2e2e2e" color="#2e2e2e">220</text>
<text transform="translate(279.82,383.5) rotate(-90) scale(1,0.8)" font-size="7" letter-spacing="0.15" text-anchor="end" fill="#2e2e2e" color="#2e2e2e">240</text>
<text transform="translate(285.41,383.5) rotate(-90) scale(1,0.8)" font-size="7" letter-spacing="0.15" text-anchor="end" fill="#2e2e2e" color="#2e2e2e">260</text>
<path d="M211.0,338.8 V336.5 H283.3 V338.8" stroke="#1a1a1a" stroke-width="1.2" fill="none"/>
<line x1="224.9" y1="336.5" x2="224.9" y2="338.5" stroke="#1a1a1a" stroke-width="1.5" />
<line x1="249.9" y1="336.5" x2="249.9" y2="338.5" stroke="#1a1a1a" stroke-width="1.5" />
<line x1="270.6" y1="336.5" x2="270.6" y2="338.5" stroke="#1a1a1a" stroke-width="1.5" />
<text transform="translate(217.6,332.8) rotate(-45)" x="0" y="0" font-size="7.8" text-anchor="start" fill="#2e2e2e" color="#2e2e2e" textLength="10.5" lengthAdjust="spacingAndGlyphs" >0-5</text>
<text transform="translate(236.6,332.8) rotate(-45)" x="0" y="0" font-size="7.8" text-anchor="start" fill="#2e2e2e" color="#2e2e2e" textLength="15.0" lengthAdjust="spacingAndGlyphs" >5-10</text>
<text transform="translate(259.6,332.8) rotate(-45)" x="0" y="0" font-size="7.8" text-anchor="start" fill="#2e2e2e" color="#2e2e2e" textLength="20.0" lengthAdjust="spacingAndGlyphs" >10-15</text>
<text transform="translate(276.6,332.8) rotate(-45)" x="0" y="0" font-size="7.8" text-anchor="start" fill="#2e2e2e" color="#2e2e2e" textLength="20.0" lengthAdjust="spacingAndGlyphs" >15-20</text>
<circle cx="218.5" cy="365.2" r="1.25" fill="#6aa442"/>
<circle cx="218.7" cy="368.2" r="1.25" fill="#6aa442"/>
<circle cx="224.0" cy="371.1" r="1.25" fill="#6aa442"/>
<circle cx="225.1" cy="372.6" r="1.25" fill="#6aa442"/>
<circle cx="225.1" cy="375.3" r="1.25" fill="#6aa442"/>
<circle cx="226.8" cy="365.8" r="1.25" fill="#6aa442"/>
<circle cx="233.1" cy="365.2" r="1.25" fill="#6aa442"/>
<circle cx="232.6" cy="367.1" r="1.25" fill="#6aa442"/>
<circle cx="232.9" cy="370.9" r="1.25" fill="#6aa442"/>
<circle cx="245.2" cy="372.6" r="1.25" fill="#6aa442"/>
<circle cx="245.4" cy="374.8" r="1.25" fill="#6aa442"/>
<circle cx="248.9" cy="372.0" r="1.25" fill="#6aa442"/>
<circle cx="250.8" cy="342.2" r="1.25" fill="#6aa442"/>
<circle cx="250.5" cy="352.1" r="1.25" fill="#6aa442"/>
<circle cx="252.7" cy="350.0" r="1.25" fill="#6aa442"/>
<circle cx="252.4" cy="361.4" r="1.25" fill="#6caade"/>
<circle cx="250.3" cy="366.2" r="1.25" fill="#6aa442"/>
<circle cx="251.1" cy="369.3" r="1.25" fill="#6aa442"/>
<circle cx="253.8" cy="369.2" r="1.25" fill="#6aa442"/>
<circle cx="254.3" cy="372.7" r="1.25" fill="#6aa442"/>
<circle cx="256.9" cy="371.0" r="1.25" fill="#6aa442"/>
<circle cx="256.6" cy="373.3" r="1.25" fill="#6aa442"/>
<circle cx="260.1" cy="372.2" r="1.25" fill="#6aa442"/>
<circle cx="265.2" cy="366.8" r="1.25" fill="#6aa442"/>
<circle cx="264.1" cy="370.1" r="1.25" fill="#6aa442"/>
<circle cx="265.5" cy="371.8" r="1.25" fill="#6aa442"/>
<circle cx="267.1" cy="372.8" r="1.25" fill="#6aa442"/>
<circle cx="268.5" cy="375.4" r="1.25" fill="#6aa442"/>
<circle cx="259.4" cy="371.8" r="1.25" fill="#9cc8e8"/>
<circle cx="251.9" cy="367.4" r="1.25" fill="#a30026"/>
<circle cx="254.4" cy="375.2" r="1.25" fill="#a30026"/>
<circle cx="259.5" cy="375.3" r="1.25" fill="#a30026"/>
<circle cx="291.1" cy="331.8" r="1.3" fill="#6aa442"/>
<text x="296.0" y="334.4" font-size="7.4" text-anchor="start" fill="#2e2e2e" color="#2e2e2e" textLength="18.0" lengthAdjust="spacingAndGlyphs" >TET2</text>
<circle cx="291.1" cy="341.95" r="1.3" fill="#6caade"/>
<text x="296.0" y="344.55" font-size="7.4" text-anchor="start" fill="#2e2e2e" color="#2e2e2e" textLength="17.3" lengthAdjust="spacingAndGlyphs" >JAK2</text>
<circle cx="291.1" cy="352.1" r="1.3" fill="#a30026"/>
<text x="296.0" y="354.7" font-size="7.4" text-anchor="start" fill="#2e2e2e" color="#2e2e2e" textLength="18.3" lengthAdjust="spacingAndGlyphs" >TP53</text>
<circle cx="291.1" cy="362.25" r="1.3" fill="#8a7fc0"/>
<text x="296.0" y="364.85" font-size="7.4" text-anchor="start" fill="#2e2e2e" color="#2e2e2e" textLength="19.6" lengthAdjust="spacingAndGlyphs" >HRAS</text>
<circle cx="291.1" cy="372.4" r="1.3" fill="#e08a20"/>
<text x="296.0" y="375.0" font-size="7.4" text-anchor="start" fill="#2e2e2e" color="#2e2e2e" textLength="22.8" lengthAdjust="spacingAndGlyphs" >GATA1</text>
<text x="247.5" y="412.2" font-size="10.2" text-anchor="middle" fill="#2e2e2e" color="#2e2e2e" textLength="61.2" lengthAdjust="spacingAndGlyphs" class="cn">Age ranked samples</text>
<text x="335.8" y="300.6" font-size="12" text-anchor="start" fill="#000" color="#000" font-weight="bold" >I</text>
<text x="423.9" y="315.0" font-size="9.6" text-anchor="middle" fill="#2e2e2e" color="#2e2e2e" textLength="82.3" lengthAdjust="spacingAndGlyphs" >Individuals with T21</text>
<line x1="370.5" y1="320.1" x2="370.5" y2="378.4" stroke="#1a1a1a" stroke-width="1.05" />
<line x1="367.2" y1="375.2" x2="370.5" y2="375.2" stroke="#1a1a1a" stroke-width="1.0" />
<text x="364.0" y="378.3" font-size="8.6" text-anchor="end" fill="#2e2e2e" color="#2e2e2e" textLength="4.3" lengthAdjust="spacingAndGlyphs" >0</text>
<line x1="367.2" y1="364.87" x2="370.5" y2="364.87" stroke="#1a1a1a" stroke-width="1.0" />
<text x="364.0" y="367.97" font-size="8.6" text-anchor="end" fill="#2e2e2e" color="#2e2e2e" textLength="4.3" lengthAdjust="spacingAndGlyphs" >2</text>
<line x1="367.2" y1="354.54" x2="370.5" y2="354.54" stroke="#1a1a1a" stroke-width="1.0" />
<text x="364.0" y="357.64" font-size="8.6" text-anchor="end" fill="#2e2e2e" color="#2e2e2e" textLength="4.3" lengthAdjust="spacingAndGlyphs" >4</text>
<line x1="367.2" y1="344.21" x2="370.5" y2="344.21" stroke="#1a1a1a" stroke-width="1.0" />
<text x="364.0" y="347.31" font-size="8.6" text-anchor="end" fill="#2e2e2e" color="#2e2e2e" textLength="4.3" lengthAdjust="spacingAndGlyphs" >6</text>
<line x1="367.2" y1="333.88" x2="370.5" y2="333.88" stroke="#1a1a1a" stroke-width="1.0" />
<text x="364.0" y="336.98" font-size="8.6" text-anchor="end" fill="#2e2e2e" color="#2e2e2e" textLength="4.3" lengthAdjust="spacingAndGlyphs" >8</text>
<line x1="367.2" y1="323.55" x2="370.5" y2="323.55" stroke="#1a1a1a" stroke-width="1.0" />
<text x="364.0" y="326.65" font-size="8.6" text-anchor="end" fill="#2e2e2e" color="#2e2e2e" textLength="8.6" lengthAdjust="spacingAndGlyphs" >10</text>
<line x1="369.6" y1="378.2" x2="466.3" y2="378.2" stroke="#1a1a1a" stroke-width="1.3" />
<rect x="379.3" y="355.26" width="13.2" height="19.64" fill="#8a7fba" stroke="#7b6fae" stroke-width="0.6"/>
<rect x="398.5" y="360.32" width="13.2" height="14.58" fill="#8890b6" stroke="#7880a8" stroke-width="0.6"/>
<rect x="417.90000000000003" y="350.2" width="13.2" height="24.7" fill="#b9bcd8" stroke="#a9acca" stroke-width="0.6"/>
<rect x="437.3" y="365.38" width="13.2" height="9.52" fill="#efd0c9" stroke="#e6c2ba" stroke-width="0.6"/>
<rect x="456.6" y="370.44" width="13.2" height="4.46" fill="#d8978c" stroke="#cc8679" stroke-width="0.6"/>
<line x1="385.9" y1="378.2" x2="385.9" y2="381.0" stroke="#1a1a1a" stroke-width="1.0" />
<text x="385.9" y="391.7" font-size="7.6" text-anchor="middle" fill="#2e2e2e" color="#2e2e2e" >1</text>
<line x1="405.1" y1="378.2" x2="405.1" y2="381.0" stroke="#1a1a1a" stroke-width="1.0" />
<text x="405.1" y="391.7" font-size="7.6" text-anchor="middle" fill="#2e2e2e" color="#2e2e2e" >2</text>
<line x1="424.5" y1="378.2" x2="424.5" y2="381.0" stroke="#1a1a1a" stroke-width="1.0" />
<text x="424.5" y="391.7" font-size="7.6" text-anchor="middle" fill="#2e2e2e" color="#2e2e2e" >3</text>
<line x1="443.9" y1="378.2" x2="443.9" y2="381.0" stroke="#1a1a1a" stroke-width="1.0" />
<text x="443.9" y="391.7" font-size="7.6" text-anchor="middle" fill="#2e2e2e" color="#2e2e2e" >4</text>
<line x1="463.2" y1="378.2" x2="463.2" y2="381.0" stroke="#1a1a1a" stroke-width="1.0" />
<text x="463.2" y="391.7" font-size="7.6" text-anchor="middle" fill="#2e2e2e" color="#2e2e2e" >9</text>
<text x="424.3" y="405.6" font-size="10.2" text-anchor="middle" fill="#2e2e2e" color="#2e2e2e" textLength="63.6" lengthAdjust="spacingAndGlyphs" class="cn">Oncogenic mutations</text>
<text transform="translate(349.0,349.3) rotate(-90)" x="0" y="0" font-size="10.2" text-anchor="middle" fill="#2e2e2e" color="#2e2e2e" textLength="21.4" lengthAdjust="spacingAndGlyphs" class="cn"># indiv</text>
<rect x="0.5" y="0.5" width="519" height="420" fill="none" stroke="#000" stroke-width="1"/>
</svg>
</body></html>
